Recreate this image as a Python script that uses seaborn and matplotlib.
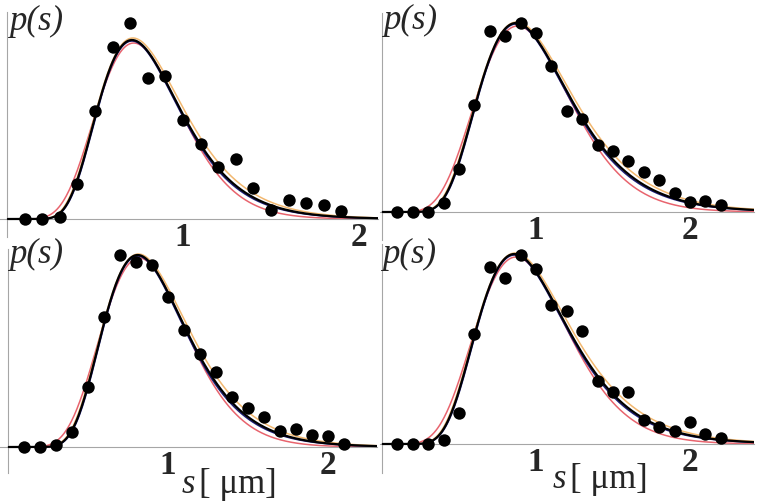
import numpy as np
import pandas as pd
import matplotlib
matplotlib.use("Agg")
import matplotlib.pyplot as plt
import seaborn as sns

# measured spacing histograms (arbitrary units, y axis has no numbers)
s_tl = [0.1, 0.2, 0.3, 0.4, 0.5, 0.6, 0.7, 0.8, 0.9, 1.0, 1.1, 1.2, 1.3, 1.4, 1.5, 1.6, 1.7, 1.8, 1.9]
p_tl = [0, 0, 0.02, 0.35, 1.08, 1.72, 1.96, 1.41, 1.43, 0.99, 0.75, 0.52, 0.60, 0.31, 0.09, 0.19, 0.16, 0.14, 0.08]

s_tr = [0.1, 0.2, 0.3, 0.4, 0.5, 0.6, 0.7, 0.8, 0.9, 1.0, 1.1, 1.2, 1.3, 1.4, 1.5, 1.6, 1.7, 1.8, 1.9, 2.0, 2.1, 2.2]
p_tr = [0, 0, 0, 0.09, 0.43, 1.07, 1.81, 1.76, 1.89, 1.79, 1.46, 1.01, 0.93, 0.67, 0.61, 0.51, 0.40, 0.32, 0.19, 0.10, 0.11, 0.07]

s_bl = [0.1, 0.2, 0.3, 0.4, 0.5, 0.6, 0.7, 0.8, 0.9, 1.0, 1.1, 1.2, 1.3, 1.4, 1.5, 1.6, 1.7, 1.8, 1.9, 2.0, 2.1]
p_bl = [0, 0, 0.02, 0.15, 0.60, 1.30, 1.92, 1.85, 1.82, 1.50, 1.17, 0.93, 0.75, 0.50, 0.39, 0.30, 0.16, 0.18, 0.12, 0.11, 0.03]

s_br = [0.1, 0.2, 0.3, 0.4, 0.5, 0.6, 0.7, 0.8, 0.9, 1.0, 1.1, 1.2, 1.3, 1.4, 1.5, 1.6, 1.7, 1.8, 1.9, 2.0, 2.1, 2.2]
p_br = [0, 0, 0, 0.04, 0.31, 1.10, 1.77, 1.66, 1.89, 1.75, 1.39, 1.33, 1.13, 0.63, 0.52, 0.52, 0.24, 0.17, 0.13, 0.22, 0.10, 0.06]

# fitted curves: (mode, log-width, peak) for each model, same order as colours
curve_colors = ["#e8646e", "#f2b870", "#1c1c78", "black"]
curve_widths = [1.1, 1.1, 1.1, 1.6]
fit_tl = [(0.72, 0.335, 1.76), (0.715, 0.34, 1.81), (0.71, 0.325, 1.78), (0.71, 0.33, 1.79)]
fit_tr = [(0.88, 0.345, 1.86), (0.875, 0.35, 1.90), (0.87, 0.335, 1.88), (0.87, 0.34, 1.89)]
fit_bl = [(0.82, 0.325, 1.89), (0.815, 0.33, 1.93), (0.81, 0.315, 1.91), (0.81, 0.32, 1.92)]
fit_br = [(0.87, 0.345, 1.87), (0.865, 0.35, 1.91), (0.86, 0.335, 1.89), (0.86, 0.34, 1.90)]


def lognormal_fit(s, mode, width, peak):
    return peak * np.exp(-np.log(s / mode) ** 2 / (2 * width ** 2))


def gamma_fit(s, mode, width, peak):
    t = s / mode
    return peak * np.exp((np.log(t) - t + 1) / width ** 2)


sns.set_style("white")
plt.rcParams["font.family"] = ["Liberation Serif", "DejaVu Serif"]

W, H = 759, 503
fig = plt.figure(figsize=(W / 100, H / 100), dpi=100)

# pixel boxes (left, right, top, bottom), x limits and y limits per panel
panels = [
    (s_tl, p_tl, fit_tl, (0, 378, 12, 237), (-0.040, 2.108), (-0.18, 2.07)),
    (s_tr, p_tr, fit_tr, (380, 754, 13, 240), (-0.013, 2.416), (-0.28, 1.99)),
    (s_bl, p_bl, fit_bl, (0, 377, 249, 473), (-0.050, 2.306), (-0.26, 1.98)),
    (s_br, p_br, fit_br, (380, 754, 244, 473), (-0.013, 2.416), (-0.29, 2.00)),
]
axis_grey = "#a6a6a6"

for s_pts, p_pts, fits, box, xlim, ylim in panels:
    l, r, t, b = box
    ax = fig.add_axes([l / W, 1 - b / H, (r - l) / W, (b - t) / H])
    ax.set_facecolor("none")

    grid = np.linspace(0.005, xlim[1], 400)
    for i, (mode, width, peak) in enumerate(fits):
        model = gamma_fit if i == 0 else lognormal_fit
        sns.lineplot(x=grid, y=model(grid, mode, width, peak), ax=ax,
                     color=curve_colors[i], lw=curve_widths[i],
                     estimator=None, sort=False, zorder=2 + i)

    df = pd.DataFrame({"s": s_pts, "p": p_pts})
    sns.scatterplot(data=df, x="s", y="p", ax=ax, color="black", s=80,
                    linewidth=0, zorder=10, clip_on=False)

    ax.set_xlim(*xlim)
    ax.set_ylim(*ylim)
    for side in ["top", "right"]:
        ax.spines[side].set_visible(False)
    ax.spines["left"].set_position(("data", 0))
    ax.spines["bottom"].set_position(("data", 0))
    for side in ["left", "bottom"]:
        ax.spines[side].set_color(axis_grey)
        ax.spines[side].set_linewidth(0.8)
    ax.set_yticks([])
    ax.set_xticks([1, 2])
    ax.set_xticklabels(["1", "2"], fontsize=24, fontweight="bold")
    ax.tick_params(axis="x", direction="in", length=3, width=0.8,
                   color=axis_grey, pad=2)
    ax.set_xlabel("")
    ax.set_ylabel("")


def fig_text(x, y, txt, **kw):
    fig.text(x / W, 1 - y / H, txt, va="baseline", ha="left", **kw)


for x, y in [(9, 30), (383, 29), (9, 263), (382, 263)]:
    fig_text(x, y, "p(s)", fontsize=25, style="italic")

for x, y in [(182, 493), (553, 488)]:
    fig_text(x, y, "s", fontsize=25, style="italic")
    fig_text(x + 17, y, "[ \u03bcm]", fontsize=25)

fig.savefig("out.png", dpi=100)
